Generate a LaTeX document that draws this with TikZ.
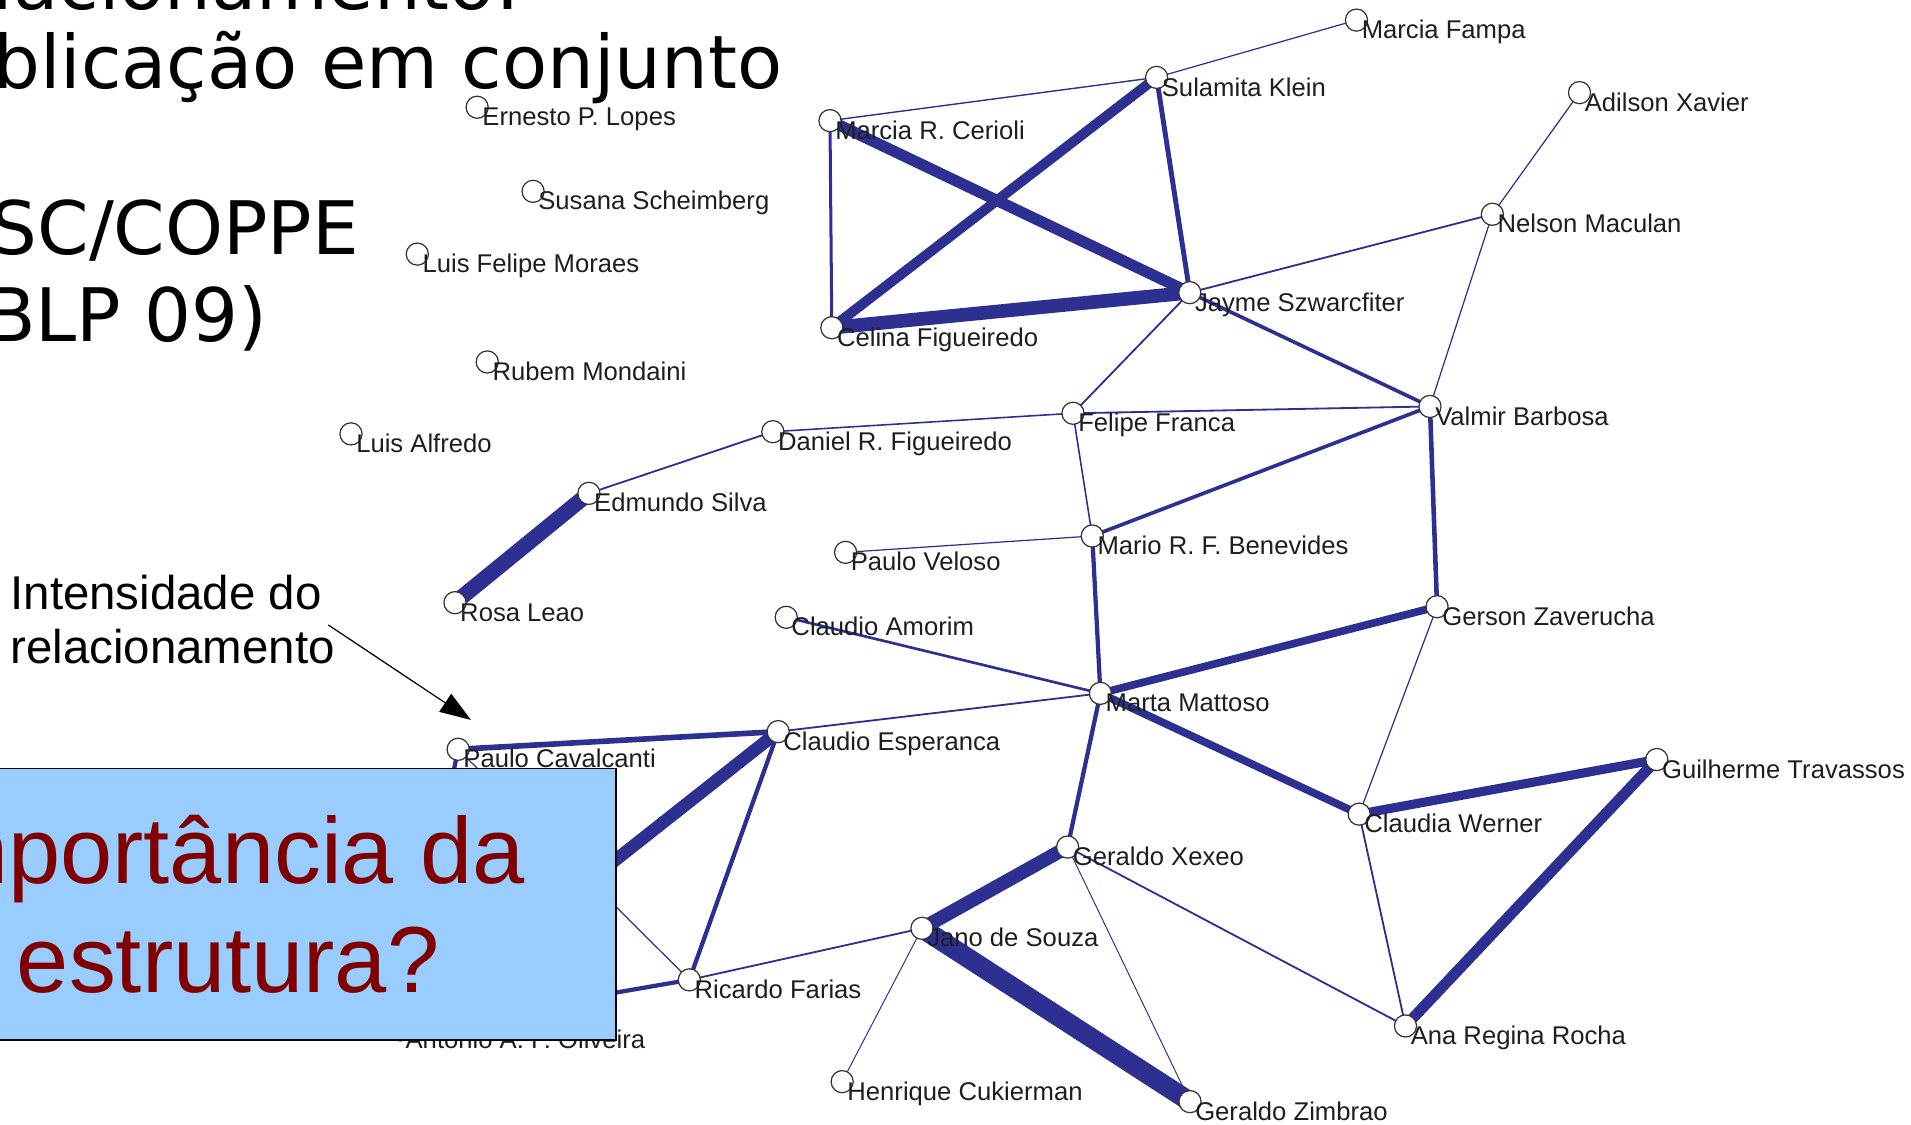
\documentclass[tikz,border=0pt]{standalone}
\usepackage{fontspec}
\setmainfont{Liberation Sans}
\newfontfamily\titlefont{DejaVu Sans}
\usetikzlibrary{arrows.meta,backgrounds}
\definecolor{edgeblue}{RGB}{45,48,145}
\definecolor{boxblue}{RGB}{153,204,255}
\definecolor{qred}{RGB}{128,0,0}
\definecolor{labgray}{RGB}{30,30,30}
\newcommand\person[4]{%
  \node[dot] (#1) at (#2,#3) {};
  \node[lab] (#1-l) at (#1.center) {#4};}
\begin{document}
\begin{tikzpicture}[x=0.012188cm,y=-0.012188cm,
  dot/.style={circle,draw=black!80,line width=0.35pt,fill=white,minimum size=6.3pt,inner sep=0pt},
  lab/.style={anchor=base west,inner sep=0pt,font=\fontsize{7.3pt}{8.5pt}\selectfont,text=labgray,xshift=1.3pt,yshift=-5.3pt},
  e/.style={draw=edgeblue,line width=#1},
  ttl/.style={anchor=base west,inner sep=0pt,font=\titlefont\fontsize{21pt}{25pt}\selectfont,text=black},
  qtxt/.style={anchor=base west,inner sep=0pt,font=\fontsize{26.7pt}{31pt}\selectfont,text=qred},
  note/.style={anchor=base west,inner sep=0pt,font=\fontsize{13.5pt}{15.5pt}\selectfont,text=black}]
\useasboundingbox (0,0) rectangle (1568,923);
\clip (0,0) rectangle (1568,923);

% title
\node[ttl] (t0) at (-83,7.5) {Relacionamento:};
\node[ttl] (t1) at (-83,72.5) {publicação em conjunto};
\node[ttl] (t2) at (-83,209.2) {PESC/COPPE};
\node[ttl] (t3) at (-83,279.8) {(DBLP 09)};

% people
\person{fampa}{1113}{16.5}{Marcia Fampa}
\person{sulamita}{949}{63.5}{Sulamita Klein}
\person{adilson}{1296}{76}{Adilson Xavier}
\person{ernesto}{391.5}{88}{Ernesto P. Lopes}
\person{cerioli}{681}{99}{Marcia R. Cerioli}
\person{susana}{437.4}{157}{Susana Scheimberg}
\person{nelson}{1224.5}{175.8}{Nelson Maculan}
\person{luisfelipe}{342.4}{208.5}{Luis Felipe Moraes}
\person{jayme}{976.2}{240.1}{Jayme Szwarcfiter}
\person{celina}{682.5}{268.9}{Celina Figueiredo}
\person{rubem}{399.8}{297}{Rubem Mondaini}
\person{valmir}{1173.3}{333.5}{Valmir Barbosa}
\person{felipe}{880.4}{339.1}{Felipe Franca}
\person{luisalfredo}{288}{356}{Luis Alfredo}
\person{daniel}{634.1}{354.2}{Daniel R. Figueiredo}
\person{edmundo}{483.2}{404.8}{Edmundo Silva}
\person{mario}{896.2}{439.8}{Mario R. F. Benevides}
\person{veloso}{693.8}{453.2}{Paulo Veloso}
\person{rosa}{373.3}{494.5}{Rosa Leao}
\person{gerson}{1179.1}{497.8}{Gerson Zaverucha}
\person{amorim}{645.1}{506.5}{Claudio Amorim}
\person{marta}{902.9}{568.9}{Marta Mattoso}
\person{esperanca}{638.5}{600.3}{Claudio Esperanca}
\person{cavalcanti}{375.9}{614.8}{Paulo Cavalcanti}
\person{guilherme}{1359.4}{623.2}{Guilherme Travassos}
\person{werner}{1115.2}{668}{Claudia Werner}
\person{xexeo}{876}{695}{Geraldo Xexeo}
\person{jano}{756.5}{761.7}{Jano de Souza}
\person{ricardo}{565.6}{804}{Ricardo Farias}
\person{antonio}{328.5}{845}{Antonio A. F. Oliveira}
\person{ana}{1153.2}{841.8}{Ana Regina Rocha}
\person{henrique}{691}{887.5}{Henrique Cukierman}
\person{zimbrao}{976.4}{903.9}{Geraldo Zimbrao}

% edges
\begin{pgfonlayer}{background}
\draw[e=0.35pt] (fampa.center) -- (sulamita.center);
\draw[e=0.4pt] (sulamita.center) -- (cerioli.center);
\draw[e=2.85pt] (sulamita.center) -- (celina.center);
\draw[e=1.4pt] (sulamita.center) -- (jayme.center);
\draw[e=3.2pt] (cerioli.center) -- (jayme.center);
\draw[e=0.86pt] (cerioli.center) -- (celina.center);
\draw[e=3.9pt] (celina.center) -- (jayme.center);
\draw[e=0.52pt] (jayme.center) -- (nelson.center);
\draw[e=0.52pt] (jayme.center) -- (felipe.center);
\draw[e=1.04pt] (jayme.center) -- (valmir.center);
\draw[e=0.35pt] (adilson.center) -- (nelson.center);
\draw[e=0.35pt] (nelson.center) -- (valmir.center);
\draw[e=0.52pt] (felipe.center) -- (valmir.center);
\draw[e=0.45pt] (felipe.center) -- (daniel.center);
\draw[e=0.45pt] (felipe.center) -- (mario.center);
\draw[e=1.04pt] (valmir.center) -- (mario.center);
\draw[e=1.3pt] (valmir.center) -- (gerson.center);
\draw[e=0.52pt] (daniel.center) -- (edmundo.center);
\draw[e=4.4pt] (edmundo.center) -- (rosa.center);
\draw[e=0.35pt] (veloso.center) -- (mario.center);
\draw[e=1.21pt] (mario.center) -- (marta.center);
\draw[e=0.76pt] (amorim.center) -- (marta.center);
\draw[e=2.2pt] (marta.center) -- (gerson.center);
\draw[e=2.2pt] (marta.center) -- (werner.center);
\draw[e=0.52pt] (marta.center) -- (esperanca.center);
\draw[e=1.21pt] (marta.center) -- (xexeo.center);
\draw[e=0.35pt] (gerson.center) -- (werner.center);
\draw[e=2.6pt] (werner.center) -- (guilherme.center);
\draw[e=0.52pt] (werner.center) -- (ana.center);
\draw[e=3.1pt] (guilherme.center) -- (ana.center);
\draw[e=3.9pt] (xexeo.center) -- (jano.center);
\draw[e=0.52pt] (xexeo.center) -- (ana.center);
\draw[e=0.28pt] (xexeo.center) -- (zimbrao.center);
\draw[e=5.6pt] (jano.center) -- (zimbrao.center);
\draw[e=0.52pt] (jano.center) -- (ricardo.center);
\draw[e=0.28pt] (jano.center) -- (henrique.center);
\draw[e=1.6pt] (esperanca.center) -- (cavalcanti.center);
\draw[e=1.21pt] (esperanca.center) -- (ricardo.center);
\draw[e=3.6pt] (esperanca.center) -- (antonio.center);
\draw[e=1.21pt] (cavalcanti.center) -- (antonio.center);
\draw[e=0.35pt] (cavalcanti.center) -- (ricardo.center);
\draw[e=1.21pt] (ricardo.center) -- (antonio.center);
\end{pgfonlayer}

% note with arrow
\node[note] (n1) at (8,500.5) {Intensidade do};
\node[note] (n2) at (8,544.8) {relacionamento};
\coordinate (arrA) at (269.4,512.8);
\coordinate (arrB) at (386.4,590.7);
\draw[line width=0.35pt,-{Triangle[length=8.8pt,width=6.1pt]}] (arrA) -- (arrB);

% question box
\draw[fill=boxblue,draw=black,line width=0.4pt] (-10,630.4) rectangle (505.4,853.3);
\node[qtxt] (q1) at (-79.3,725.3) {Importância da};
\node[qtxt] (q2) at (13.3,814.2) {estrutura?};
\end{tikzpicture}
\end{document}
